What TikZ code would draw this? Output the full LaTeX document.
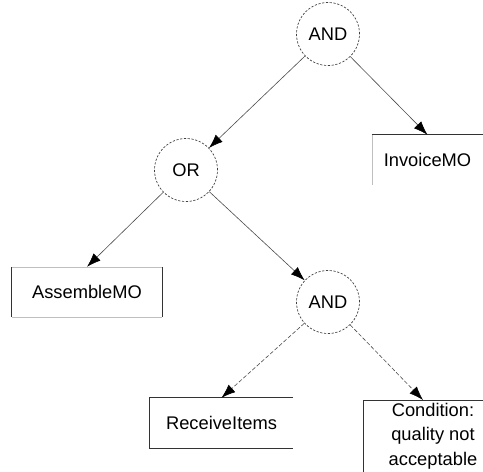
\documentclass[tikz,border=0pt]{standalone}
\usepackage{fontspec}
\setmainfont{Liberation Sans}
\usetikzlibrary{arrows.meta}
\begin{document}
\begin{tikzpicture}[x=1pt,y=-1pt,
  gate/.style={circle,draw=black!75,line width=0.7pt,dash pattern=on 2.2pt off 1.6pt,minimum size=63pt,inner sep=0pt,font=\fontsize{18.3}{22}\selectfont},
  leaf/.style={rectangle,inner sep=0pt,font=\fontsize{18.3}{22}\selectfont},
  edgeline/.style={draw=black!80,line width=0.8pt},
  faint/.style={draw=black!25,line width=0.6pt},
  link/.style={draw=black!70,line width=0.6pt,-{Latex[length=14pt,width=10pt,black]},shorten >=0pt},
  dlink/.style={link,dash pattern=on 4pt off 2pt}]
\useasboundingbox (0,0) rectangle (483,472);
% gates
\node[gate] (and1) at (328,34) {AND};
\node[gate] (or) at (186,170) {OR};
\node[gate] (and2) at (328,302) {AND};
% leaves
\node[leaf,minimum width=111pt,minimum height=50pt] (inv) at (427.5,160) {InvoiceMO};
\node[leaf,minimum width=150pt,minimum height=50pt] (asm) at (87,292) {AssembleMO};
\node[leaf,minimum width=143pt,minimum height=50pt] (rcv) at (221.5,423) {ReceiveItems};
\node[leaf,align=center,font=\fontsize{18.3}{24.5}\selectfont] (cond) at (433,436) {Condition:\\quality not\\acceptable};
\coordinate (condtop) at (423,400);
\coordinate (condtl) at (363,400);
\coordinate (condtr) at (483,400);
\coordinate (condbl) at (363,472);
% box edges
\draw[edgeline] (inv.north west) -- (inv.north east);
\draw[faint] (inv.north west) -- (inv.south west);
\draw[edgeline] (asm.north west) -- (asm.south west);
\draw[edgeline] (asm.north east) -- (asm.south east);
\draw[faint] (asm.north west) -- (asm.north east);
\draw[faint] (asm.south west) -- (asm.south east);
\draw[edgeline] (rcv.north east) -- (rcv.north west) -- (rcv.south west) -- (rcv.south east);
\draw[edgeline] (condtr) -- (condtl) -- (condbl);
% connectors
\draw[link] (and1) -- (or);
\draw[link] (and1) -- (inv.north);
\draw[link] (or) -- (asm.north);
\draw[link] (or) -- (and2);
\draw[dlink] (and2) -- (rcv.north);
\draw[dlink] (and2) -- (condtop);
\end{tikzpicture}
\end{document}
